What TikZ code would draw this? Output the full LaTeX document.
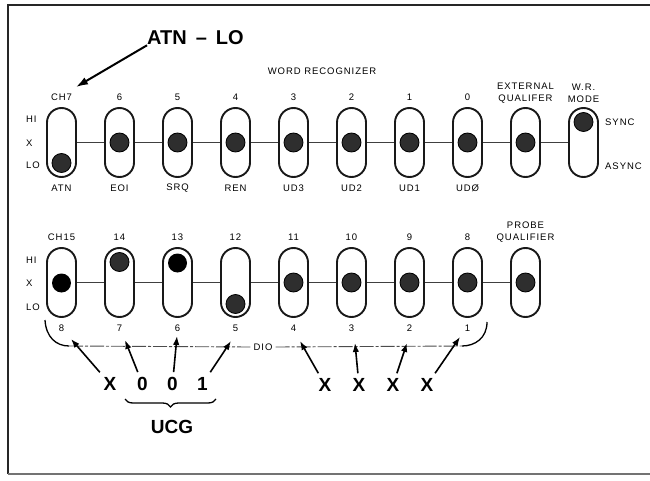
\documentclass[tikz,border=0pt]{standalone}
\usepackage{fontspec}
\setmainfont{Liberation Sans}
\newfontfamily\labfont[LetterSpace=10]{Liberation Sans}
\usetikzlibrary{arrows.meta,decorations.pathreplacing}
\begin{document}
\begin{tikzpicture}[x=1pt,y=-1pt,
  sw/.style={draw=black!90, line width=1.9pt, rounded corners=14.5pt, minimum width=29pt, minimum height=69pt, fill=white, inner sep=0pt},
  knob/.style={circle, fill=black!82, draw=black, line width=0.8pt, minimum size=19pt, inner sep=0pt},
  knobb/.style={circle, fill=black, minimum size=19pt, inner sep=0pt},
  lab/.style={font=\labfont\fontsize{9.5}{12}\selectfont, inner sep=0pt, text=black},
  side/.style={lab, anchor=west},
  big/.style={font=\fontsize{19}{20}\selectfont\bfseries, inner sep=0pt},
  bit/.style={big, inner sep=5pt},
  conn/.style={line width=0.9pt, black!75},
  dio/.style={line width=0.9pt, black!70, dash pattern=on 14pt off 2pt on 3pt off 2pt},
  arr/.style={line width=1.6pt, -{Latex[length=9pt,width=6.5pt]}},
  bigarr/.style={line width=2pt, -{Latex[length=12pt,width=8pt]}},
  curve/.style={line width=1.3pt},
  frame/.style={line width=2pt, black!85},
]
\useasboundingbox (0,0) rectangle (650,481);
% frame
\coordinate (f1) at (650,5);
\coordinate (f2) at (8,5);
\coordinate (f3) at (8,474);
\coordinate (f4) at (650,474);
\draw[frame] (f1) -- (f2) -- (f3);
\draw[line width=1.2pt, black!55] (f3) -- (f4);

% ---------- row 1: word recognizer ----------
\foreach \i in {0,...,9} \node[sw] (a\i) at ({61.5+58*\i},142.5) {};
\foreach \i [evaluate=\i as \j using int(\i+1)] in {0,...,8} \draw[conn] (a\i.east) -- (a\j.west);
\node[knob] (ka0) at (61.5,163) {};
\foreach \i in {1,...,8} \node[knob] (ka\i) at ({61.5+58*\i},142.5) {};
\node[knob] (ka9) at (583.5,122) {};

\foreach \t [count=\i from 0] in {CH7,6,5,4,3,2,1,0} \node[lab] (ta\i) at ({61.5+58*\i},97) {\t};
\node[lab, align=center] (ext) at (525.5,93) {EXTERNAL\\QUALIFER};
\node[lab, align=center] (wrm) at (583.5,93) {W.R.\\MODE};
\foreach \t [count=\i from 0] in {ATN,EOI,SRQ,REN,UD3,UD2,UD1,UDØ} \node[lab] (ba\i) at ({61.5+58*\i},188) {\t};
\node[lab] (wr) at (322,71) {WORD RECOGNIZER};
\node[side] (sync) at (605,122) {SYNC};
\node[side] (async) at (605,166) {ASYNC};
\node[side] (hi1) at (26,119) {HI};
\node[side] (x1) at (26,143) {X};
\node[side] (lo1) at (26,165) {LO};

% ATN - LO callout
\node[big, font=\fontsize{20}{22}\selectfont\bfseries] (atn) at (195.5,38) {ATN\hspace{0.45em}–\hspace{0.45em}LO};
\coordinate (tipA) at (76,87);
\draw[bigarr] (atn.south west) -- (tipA);

% ---------- row 2 ----------
\foreach \i in {0,...,8} \node[sw] (c\i) at ({61.5+58*\i},282.5) {};
\foreach \i [evaluate=\i as \j using int(\i+1)] in {0,...,7} \draw[conn] (c\i.east) -- (c\j.west);
\node[knobb] (kb0) at (61.5,283) {};
\node[knob] (kb1) at (119.5,262) {};
\node[knobb] (kb2) at (177.5,263) {};
\node[knob] (kb3) at (235.5,304) {};
\foreach \i in {4,...,8} \node[knob] (kb\i) at ({61.5+58*\i},282.5) {};

\foreach \t [count=\i from 0] in {CH15,14,13,12,11,10,9,8} \node[lab] (tc\i) at ({61.5+58*\i},237) {\t};
\node[lab, align=center] (probe) at (525.5,232) {PROBE\\QUALIFIER};
\foreach \t [count=\i from 0] in {8,7,6,5,4,3,2,1} \node[lab] (bc\i) at ({61.5+58*\i},328) {\t};
\node[side] (hi2) at (26,260) {HI};
\node[side] (x2) at (26,283) {X};
\node[side] (lo2) at (26,307) {LO};

% ---------- DIO bus ----------
\coordinate (la) at (45,320);
\coordinate (dl) at (69,346);
\coordinate (ra) at (487,322);
\coordinate (dr) at (462,346);
\draw[curve] (la) .. controls (46,337) and (56,346) .. (dl);
\draw[curve] (ra) .. controls (487,338) and (475,346) .. (dr);
\node[lab, inner sep=3pt] (dio) at (263,347) {DIO};
\draw[dio] (dl) -- (dio.west);
\draw[dio] (dio.east) -- (dr);

% bits
\node[bit] (n1) at (110,384) {X};
\node[bit] (n2) at (142.5,384) {0};
\node[bit] (n3) at (172.5,384) {0};
\node[bit] (n4) at (202.5,384) {1};
\node[bit] (n5) at (325,385) {X};
\node[bit] (n6) at (359,385) {X};
\node[bit] (n7) at (393,385) {X};
\node[bit] (n8) at (427,385) {X};
\coordinate (t1) at (71,339);
\coordinate (t2) at (125,340);
\coordinate (t3) at (177,336);
\coordinate (t4) at (231,341);
\coordinate (t5) at (300,341);
\coordinate (t6) at (355,343);
\coordinate (t7) at (407,343);
\coordinate (t8) at (460,337);
\foreach \k in {1,...,8} \draw[arr] (n\k) -- (t\k);

% UCG brace
\coordinate (br1) at (125,399);
\coordinate (br2) at (216,399);
\draw[line width=1.3pt, decorate, decoration={brace, mirror, amplitude=8pt}] (br1) -- (br2);
\node[big] (ucg) at (172,427) {UCG};
\end{tikzpicture}
\end{document}
